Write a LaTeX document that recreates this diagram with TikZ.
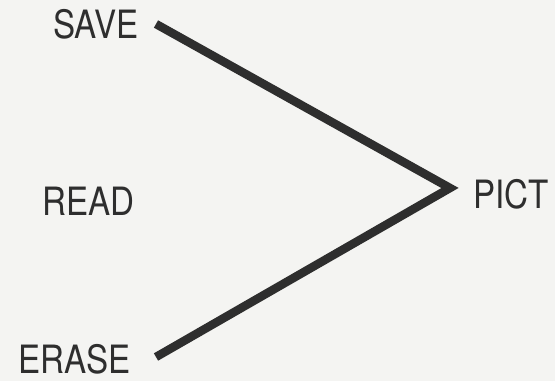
\documentclass[tikz,border=0pt]{standalone}
\usepackage{fontspec}
\setmainfont{TeX Gyre Heros}
\definecolor{ink}{HTML}{2E2E2E}
\definecolor{paper}{HTML}{F4F4F2}
\begin{document}
\begin{tikzpicture}[x=1pt,y=-1pt,
  lbl/.style={anchor=base west,inner sep=0pt,text depth=0pt,text=ink,font=\fontsize{39}{39}\selectfont,xscale=0.85},
  bar/.style={draw=ink,line width=8.5pt,line join=miter,line cap=butt}]
\fill[paper] (0,0) rectangle (555,381);
\useasboundingbox (0,0) rectangle (555,381);
\node[lbl] (save) at (53,38) {SAVE};
\node[lbl] (read) at (42,215) {READ};
\node[lbl] (erase) at (18,373) {ERASE};
\node[lbl] (pict) at (473,208) {PICT};
\coordinate (s) at (156,24);
\coordinate (v) at (450,188);
\coordinate (e) at (156,357);
\draw[bar] (s) -- (v) -- (e);
\end{tikzpicture}
\end{document}
